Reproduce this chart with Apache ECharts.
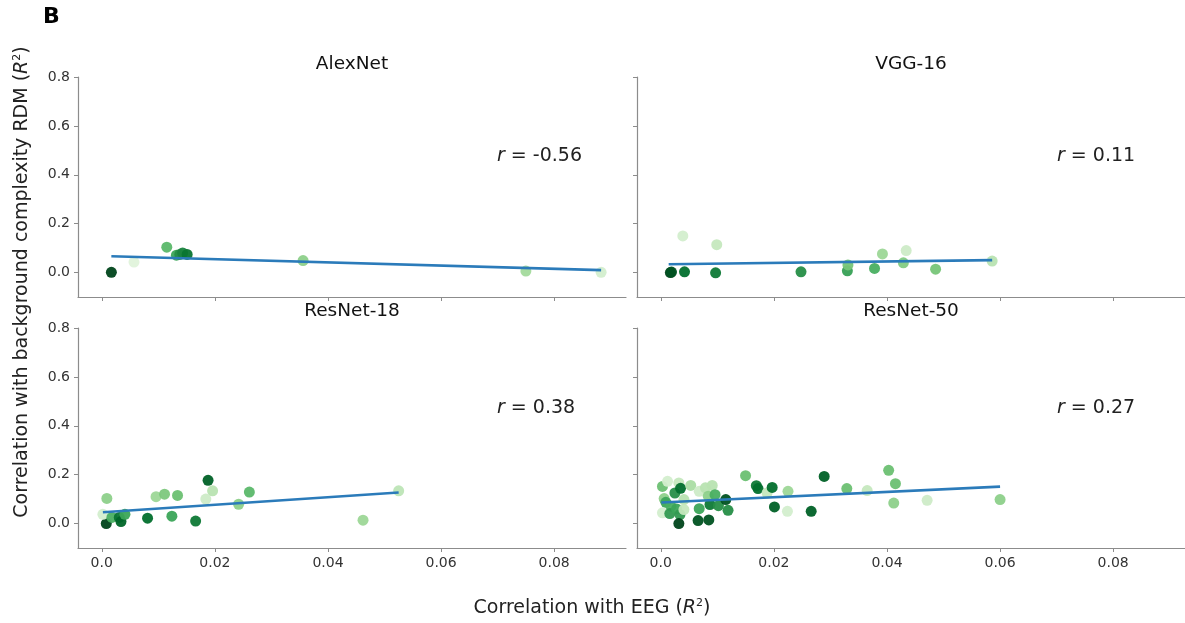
<!DOCTYPE html>
<html>
<head>
<meta charset="utf-8">
<script src="https://cdn.jsdelivr.net/npm/echarts@6/dist/echarts.min.js"></script>
<style>
  html, body { margin: 0; padding: 0; background: #fff; }
  #chart { width: 1185px; height: 623px; }
</style>
</head>
<body>
<div id="chart"></div>
<script>
// panel names and r values
var panelNames = ['AlexNet', 'VGG-16', 'ResNet-18', 'ResNet-50'];
var rValues = ['-0.56', '0.11', '0.38', '0.27'];

// tick values / labels
var xTicks = [0, 0.02, 0.04, 0.06, 0.08];
var xTickLabels = ['0.0', '0.02', '0.04', '0.06', '0.08'];
var yTicks = [0, 0.2, 0.4, 0.6, 0.8];
var yTickLabels = ['0.0', '0.2', '0.4', '0.6', '0.8'];

// points: [EEG R2, background RDM R2, layer depth (0..1, colour)]
var alexPts = [
  [0.0017, 0.001, 1.0], [0.0057, 0.043, 0.05], [0.0115, 0.104, 0.5],
  [0.0132, 0.071, 0.6], [0.0138, 0.074, 0.7], [0.0143, 0.080, 0.75],
  [0.0151, 0.074, 0.82], [0.0356, 0.049, 0.35], [0.0750, 0.006, 0.28],
  [0.0883, 0.001, 0.1]
];
var vggPts = [
  [0.0017, 0.000, 1.0], [0.0019, 0.002, 0.95], [0.0039, 0.150, 0.1],
  [0.0042, 0.003, 0.85], [0.0099, 0.114, 0.15], [0.0097, -0.001, 0.8],
  [0.0248, 0.003, 0.7], [0.0330, 0.007, 0.62], [0.0331, 0.031, 0.42],
  [0.0378, 0.017, 0.55], [0.0392, 0.076, 0.3], [0.0434, 0.090, 0.12],
  [0.0429, 0.040, 0.38], [0.0486, 0.014, 0.42], [0.0586, 0.047, 0.2]
];
var res18Pts = [
  [0.0008, 0.000, 1.0], [0.0002, 0.038, 0.1], [0.0009, 0.103, 0.35],
  [0.0018, 0.025, 0.55], [0.0031, 0.025, 0.82], [0.0034, 0.008, 0.88],
  [0.0041, 0.038, 0.6], [0.0081, 0.022, 0.85], [0.0096, 0.110, 0.3],
  [0.0111, 0.120, 0.4], [0.0124, 0.030, 0.6], [0.0134, 0.115, 0.45],
  [0.0166, 0.010, 0.8], [0.0184, 0.100, 0.12], [0.0188, 0.177, 0.9],
  [0.0196, 0.134, 0.2], [0.0242, 0.079, 0.35], [0.0261, 0.129, 0.5],
  [0.0462, 0.014, 0.3], [0.0525, 0.134, 0.18]
];
var res50Pts = [
  [0.0003, 0.152, 0.45], [0.0012, 0.173, 0.1], [0.0006, 0.102, 0.35],
  [0.0009, 0.087, 0.6], [0.0003, 0.044, 0.1], [0.0018, 0.071, 0.55],
  [0.0016, 0.041, 0.65], [0.0025, 0.125, 0.7], [0.0032, 0.166, 0.15],
  [0.0035, 0.144, 0.85], [0.0028, 0.060, 0.6], [0.0034, 0.037, 0.65],
  [0.0032, 0.000, 1.0], [0.0041, 0.098, 0.2], [0.0041, 0.057, 0.15],
  [0.0053, 0.156, 0.25], [0.0068, 0.061, 0.6], [0.0066, 0.012, 0.95],
  [0.0085, 0.015, 0.95], [0.0068, 0.132, 0.12], [0.0079, 0.146, 0.2],
  [0.0091, 0.156, 0.2], [0.0084, 0.112, 0.35], [0.0087, 0.078, 0.8],
  [0.0096, 0.118, 0.55], [0.0102, 0.073, 0.7], [0.0115, 0.098, 0.95],
  [0.0119, 0.054, 0.7], [0.0150, 0.196, 0.45], [0.0169, 0.155, 0.8],
  [0.0172, 0.143, 0.85], [0.0188, 0.125, 0.15], [0.0197, 0.148, 0.85],
  [0.0201, 0.068, 0.9], [0.0224, 0.050, 0.1], [0.0225, 0.132, 0.3],
  [0.0266, 0.050, 0.9], [0.0289, 0.193, 0.9], [0.0329, 0.143, 0.45],
  [0.0365, 0.135, 0.15], [0.0403, 0.218, 0.45], [0.0415, 0.163, 0.45],
  [0.0412, 0.084, 0.35], [0.0471, 0.095, 0.12], [0.0600, 0.098, 0.35]
];

// fitted regression lines (endpoints)
var alexFit = [[0.0017, 0.067], [0.0883, 0.010]];
var vggFit = [[0.0014, 0.034], [0.0586, 0.051]];
var res18Fit = [[0.0002, 0.046], [0.0525, 0.127]];
var res50Fit = [[0.0001, 0.086], [0.0600, 0.151]];

var allPts = [alexPts, vggPts, res18Pts, res50Pts];
var allFits = [alexFit, vggFit, res18Fit, res50Fit];

var chart = echarts.init(document.getElementById('chart'));

var FONT = 'DejaVu Sans';
var axisGray = '#8c8c8c';
var gridPos = [
  { left: 78, top: 77 }, { left: 637, top: 77 },
  { left: 78, top: 328 }, { left: 637, top: 328 }
];

var grids = [], xAxes = [], yAxes = [], series = [];
for (var i = 0; i < 4; i++) {
  grids.push({ left: gridPos[i].left, top: gridPos[i].top, width: 548, height: 220 });
  xAxes.push({
    gridIndex: i,
    type: 'value',
    min: -0.0042,
    max: 0.0927,
    splitLine: { show: false },
    axisLine: { show: true, onZero: false, lineStyle: { color: axisGray, width: 1.2 } },
    axisTick: { show: true, length: 4, lineStyle: { color: axisGray }, customValues: xTicks },
    axisLabel: {
      show: i >= 2,
      customValues: xTicks,
      color: '#333',
      fontFamily: FONT,
      fontSize: 14,
      margin: 8,
      formatter: function (v) {
        var k = xTicks.indexOf(v);
        return k >= 0 ? xTickLabels[k] : '';
      }
    }
  });
  yAxes.push({
    gridIndex: i,
    type: 'value',
    min: -0.1,
    max: 0.8,
    splitLine: { show: false },
    axisLine: { show: true, onZero: false, lineStyle: { color: axisGray, width: 1.2 } },
    axisTick: { show: true, length: 4, lineStyle: { color: axisGray }, customValues: yTicks },
    axisLabel: {
      show: i % 2 === 0,
      customValues: yTicks,
      color: '#333',
      fontFamily: FONT,
      fontSize: 14,
      margin: 8,
      formatter: function (v) {
        var k = yTicks.indexOf(v);
        return k >= 0 ? yTickLabels[k] : '';
      }
    }
  });
  series.push({
    type: 'scatter',
    xAxisIndex: i,
    yAxisIndex: i,
    symbolSize: 11,
    itemStyle: { opacity: 0.95 },
    data: allPts[i],
    z: 2
  });
  series.push({
    type: 'line',
    xAxisIndex: i,
    yAxisIndex: i,
    data: allFits[i],
    symbol: 'none',
    lineStyle: { color: '#2b7bba', width: 2.6 },
    z: 3,
    silent: true
  });
}

var rPos = [[497, 156], [1057, 156], [497, 408], [1057, 408]];
var graphics = [
  { type: 'text', left: 43, top: 6, style: { text: 'B', font: 'bold 22px "DejaVu Sans"', fill: '#000' } },
  { type: 'text', x: 592, y: 608, style: { text: '{n|Correlation with EEG (}{i|R}{s|2}{n|)}', rich: {
      n: { fontFamily: FONT, fontSize: 19, fill: '#222' },
      i: { fontFamily: FONT, fontSize: 19, fontStyle: 'italic', fill: '#222' },
      s: { fontFamily: FONT, fontSize: 11, fill: '#222', padding: [0, 0, 9, 0] }
    }, align: 'center', verticalAlign: 'middle' } },
  { type: 'text', x: 22, y: 282, rotation: Math.PI / 2, style: { text: '{n|Correlation with background complexity RDM (}{i|R}{s|2}{n|)}', rich: {
      n: { fontFamily: FONT, fontSize: 19, fill: '#222' },
      i: { fontFamily: FONT, fontSize: 19, fontStyle: 'italic', fill: '#222' },
      s: { fontFamily: FONT, fontSize: 11, fill: '#222', padding: [0, 0, 9, 0] }
    }, align: 'center', verticalAlign: 'middle' } }
];
for (var j = 0; j < 4; j++) {
  graphics.push({ type: 'text', x: j % 2 === 0 ? 352 : 911, y: j < 2 ? 64 : 311, style: { text: panelNames[j], fontFamily: FONT, fontSize: 18.5, fill: '#111', align: 'center', verticalAlign: 'middle' } });
  graphics.push({ type: 'text', x: rPos[j][0], y: rPos[j][1], style: {
    text: '{i|r} = ' + rValues[j],
    rich: { i: { fontFamily: FONT, fontSize: 19, fontStyle: 'italic', fill: '#222' } },
    fontFamily: FONT, fontSize: 19, fill: '#222', verticalAlign: 'middle'
  } });
}

var option = {
  backgroundColor: '#fff',
  animation: false,
  grid: grids,
  xAxis: xAxes,
  yAxis: yAxes,
  visualMap: {
    show: false,
    type: 'continuous',
    seriesIndex: [0, 2, 4, 6],
    dimension: 2,
    min: 0,
    max: 1,
    inRange: { color: ['#eef8ea', '#c7e9c0', '#a1d99b', '#74c476', '#41ab5d', '#238b45', '#006d2c', '#00441b'] }
  },
  graphic: graphics,
  series: series
};
chart.setOption(option);
</script>
</body>
</html>
